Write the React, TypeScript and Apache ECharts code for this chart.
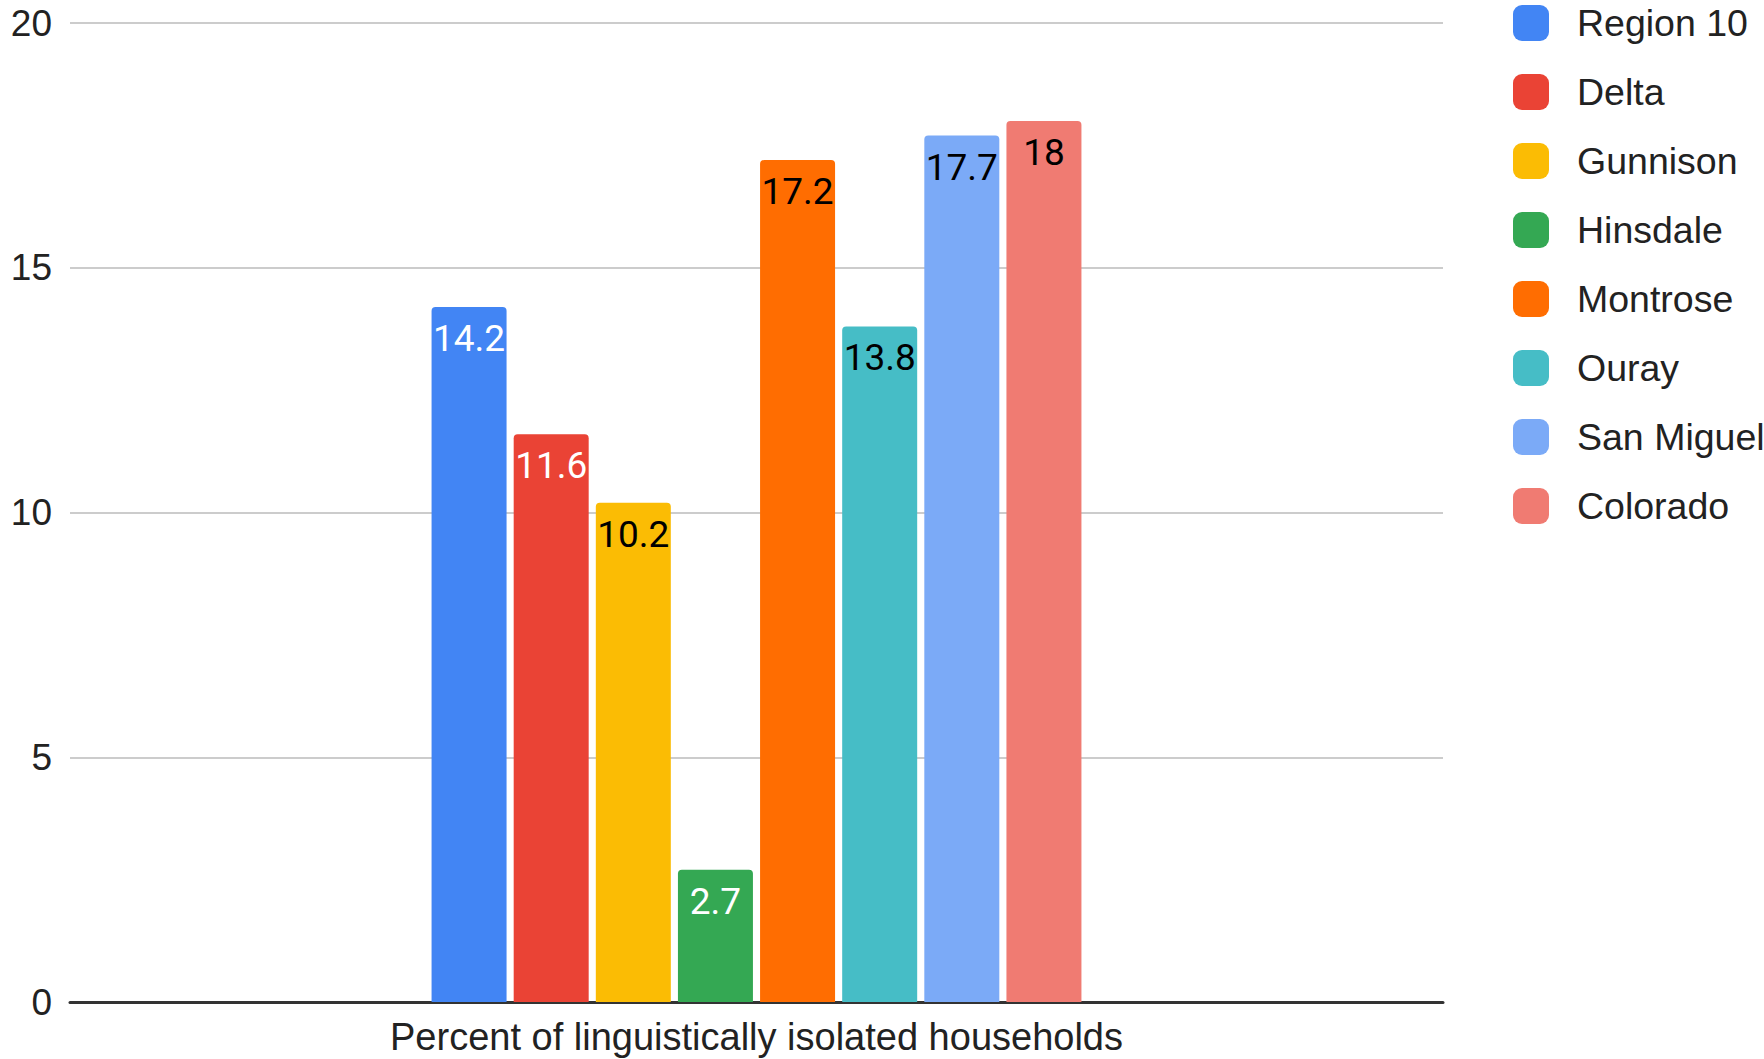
import React, { useEffect, useRef } from "react";
import * as echarts from "echarts";

const categories = ["Percent of linguistically isolated households"];
const seriesNames = ["Region 10", "Delta", "Gunnison", "Hinsdale", "Montrose", "Ouray", "San Miguel", "Colorado"];
const seriesValues = [14.2, 11.6, 10.2, 2.7, 17.2, 13.8, 17.7, 18];
const seriesColors = ["#4285F4", "#EA4335", "#FBBC04", "#34A853", "#FF6D01", "#46BDC6", "#7BAAF7", "#F07B72"];
const labelColors = ["#ffffff", "#ffffff", "#000000", "#ffffff", "#000000", "#000000", "#000000", "#000000"];
const yTicks = [0, 5, 10, 15, 20];

export default function App() {
  const ref = useRef<HTMLDivElement>(null);
  useEffect(() => {
    document.body.style.margin = "0";
    if (!ref.current) return;
    const chart = echarts.init(ref.current, undefined, { renderer: "svg" });
    const font = "Liberation Sans, Arial, sans-serif";
    chart.setOption({
      animation: false,
      backgroundColor: "#ffffff",
      color: seriesColors,
      grid: { left: 70, right: 321, top: 23, bottom: 57, containLabel: false },
      legend: {
        orient: "vertical",
        left: 1508,
        top: -1,
        itemWidth: 36,
        itemHeight: 36,
        itemGap: 31,
        icon: "roundRect",
        textStyle: { fontSize: 37.5, color: "#222222", fontFamily: font, padding: [0, 0, 0, 23] },
        data: seriesNames,
      },
      xAxis: {
        type: "category",
        data: categories,
        axisTick: { show: false },
        axisLine: { lineStyle: { color: "#333333", width: 3 } },
        axisLabel: { fontSize: 38, color: "#222222", fontFamily: font, margin: 16 },
      },
      yAxis: {
        type: "value",
        min: yTicks[0],
        max: yTicks[yTicks.length - 1],
        interval: 5,
        axisLine: { show: false },
        axisTick: { show: false },
        axisLabel: { fontSize: 37, color: "#222222", fontFamily: font, margin: 18 },
        splitLine: { lineStyle: { color: "#cccccc", width: 2 } },
      },
      series: seriesNames.map((name, i) => ({
        name,
        type: "bar",
        data: [seriesValues[i]],
        barWidth: 75,
        barGap: "9.5%",
        itemStyle: { color: seriesColors[i], borderRadius: [4, 4, 0, 0] },
        label: {
          show: true,
          position: "insideTop",
          distance: 13,
          fontSize: 37,
          fontFamily: "Roboto, sans-serif",
          color: labelColors[i],
          textBorderColor: seriesColors[i],
          textBorderWidth: 2,
        },
      })),
    });
    return () => chart.dispose();
  }, []);
  return <div ref={ref} style={{ width: 1764, height: 1059 }} />;
}
